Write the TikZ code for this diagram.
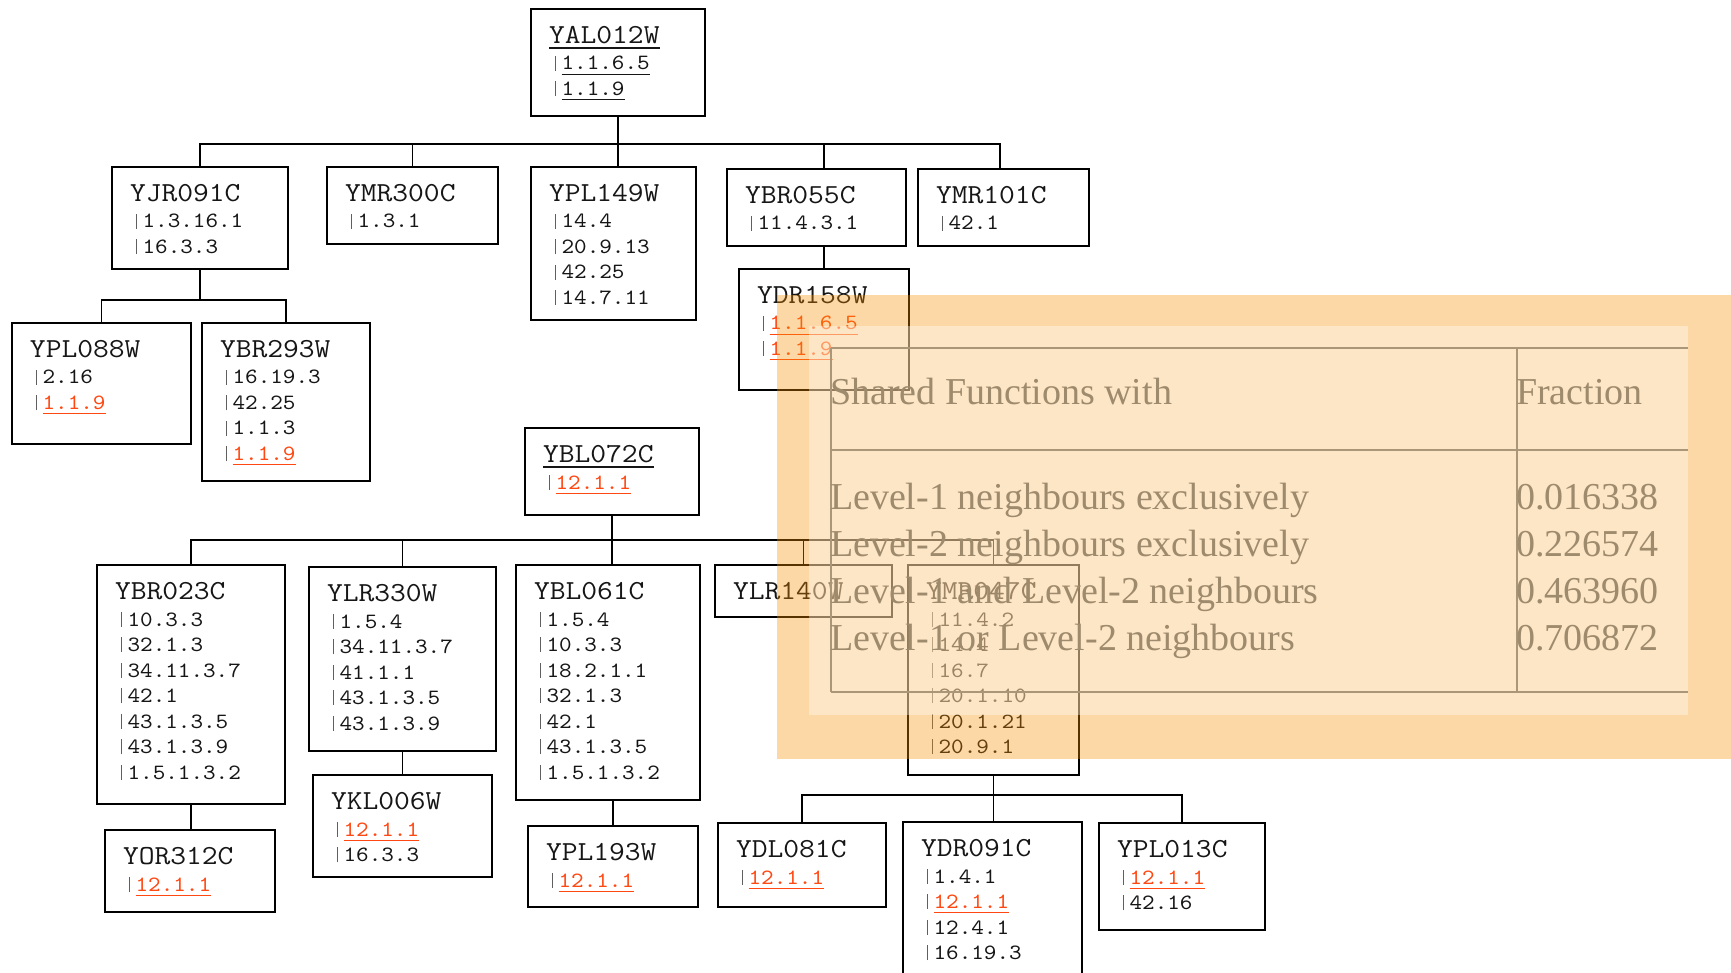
\documentclass[tikz,border=0pt]{standalone}
\usepackage{fontspec}
\usepackage{graphicx}
\newfontfamily\tabserif{Liberation Serif}

\definecolor{linkred}{RGB}{255,72,18}
\definecolor{ink}{RGB}{22,22,22}
\definecolor{barc}{RGB}{95,95,95}
\definecolor{veil}{RGB}{249,144,0}
\definecolor{tabink}{RGB}{158,138,108}
\definecolor{tabrule}{RGB}{170,150,120}

% fonts of the gene boxes
\newcommand\titlefont{\fontsize{13.75pt}{16pt}\selectfont\ttfamily}
\newcommand\itemfont{\fontsize{10.9pt}{13pt}\selectfont\ttfamily}
% underlined text: #1 depth of the rule, #2 its thickness, #3 text
\newcommand\ulbox[3]{\setbox0=\hbox{#3}\rlap{\rule[-#1]{\wd0}{#2}}\box0}
% gene names
\newcommand\gname[1]{\scalebox{1.115}[1]{\titlefont #1}}
\newcommand\gnameu[1]{\scalebox{1.115}[1]{\titlefont\ulbox{2.6pt}{0.6pt}{#1}}}
% function entries: plain, red link, black link
\newcommand\fbar{\makebox[0.525em]{\textcolor{barc}{\rule[-0.03em]{0.55pt}{0.68em}}}}
\newcommand\fnblack[1]{\scalebox{1.1}[1]{\itemfont\fbar\color{ink}#1}}
\newcommand\fnred[1]{\scalebox{1.1}[1]{\itemfont\fbar\color{linkred}\ulbox{2.4pt}{0.5pt}{#1}}}
\newcommand\fnlink[1]{\scalebox{1.1}[1]{\itemfont\fbar\color{ink}\ulbox{2.4pt}{0.5pt}{#1}}}

\tikzset{
  gbox/.style={draw=black, fill=white, line width=0.9pt, inner sep=0pt, outer sep=0pt},
  rootbox/.style={gbox, line width=1.3pt},
  lbl/.style={inner sep=0pt, outer sep=0pt, text=ink},
  conn/.style={draw=black, line width=0.85pt},
  tabtxt/.style={inner sep=0pt, outer sep=0pt, text=tabink,
    font={\tabserif\fontsize{19pt}{22pt}\selectfont}},
  tabline/.style={draw=tabrule, line width=1pt}
}

% #1 style, #2 name, #3 left, #4 top, #5 right, #6 bottom, #7 title, #8 entries
\newcommand\genebox[8][gbox]{%
  \node[#1, anchor=north west, minimum width={(#5-#3)*0.5pt},
        minimum height={(#6-#4)*0.5pt}] (#2) at (#3,#4) {};
  \node[lbl, anchor=base west] (#2-name) at (#3+18,#4+34.5) {#7};
  \def\entrylist{#8}%
  \ifx\entrylist\empty\else
    \foreach \entry [count=\k] in {#8} {
      \node[lbl, anchor=base west] (#2-\k) at (#3+18,#4+61+25.5*\k-25.5) {\entry};
    }%
  \fi
}

\begin{document}
\begin{tikzpicture}[x=0.5pt, y=-0.5pt]
\useasboundingbox (0,0) rectangle (1731,973);
\clip (0,0) rectangle (1731,973);
\fill[white] (0,0) rectangle (1731,973);

% ---- upper tree
\genebox[rootbox]{YAL012W}{531}{9}{705}{116}{\gnameu{YAL012W}}{\fnlink{1.1.6.5},\fnlink{1.1.9}}
\genebox{YJR091C}{112}{167}{288}{269}{\gname{YJR091C}}{\fnblack{1.3.16.1},\fnblack{16.3.3}}
\genebox{YMR300C}{327}{167}{498}{244}{\gname{YMR300C}}{\fnblack{1.3.1}}
\genebox{YPL149W}{531}{167}{696}{320}{\gname{YPL149W}}{\fnblack{14.4},\fnblack{20.9.13},\fnblack{42.25},\fnblack{14.7.11}}
\genebox{YBR055C}{727}{169}{906}{246}{\gname{YBR055C}}{\fnblack{11.4.3.1}}
\genebox{YMR101C}{918}{169}{1089}{246}{\gname{YMR101C}}{\fnblack{42.1}}
\genebox{YDR158W}{739}{269}{909}{390}{\gname{YDR158W}}{\fnred{1.1.6.5},\fnred{1.1.9}}
\genebox{YPL088W}{12}{323}{191}{444}{\gname{YPL088W}}{\fnblack{2.16},\fnred{1.1.9}}
\genebox{YBR293W}{202}{323}{370}{481}{\gname{YBR293W}}{\fnblack{16.19.3},\fnblack{42.25},\fnblack{1.1.3},\fnred{1.1.9}}

\coordinate (busA) at (0,144);
\draw[conn] (YAL012W.south) -- (YAL012W.south |- YPL149W.north);
\draw[conn] (YJR091C.north) -- (YJR091C.north |- busA) -- ([xshift=-1.75pt]YMR101C.north |- busA) -- ([xshift=-1.75pt]YMR101C.north);
\draw[conn] (YMR300C.north) -- (YMR300C.north |- busA);
\draw[conn] (YDR158W.north |- YBR055C.north) -- (YDR158W.north |- busA);
\draw[conn] (YDR158W.north |- YBR055C.south) -- (YDR158W.north);
\coordinate (busB) at (0,300);
\draw[conn] (YJR091C.south) -- (YJR091C.south |- busB);
\draw[conn] (YPL088W.north) -- (YPL088W.north |- busB) -- (YBR293W.north |- busB) -- (YBR293W.north);

% ---- lower tree
\genebox[rootbox]{YBL072C}{525}{428}{699}{515}{\gnameu{YBL072C}}{\fnred{12.1.1}}
\genebox{YBR023C}{97}{565}{285}{804}{\gname{YBR023C}}{\fnblack{10.3.3},\fnblack{32.1.3},\fnblack{34.11.3.7},\fnblack{42.1},\fnblack{43.1.3.5},\fnblack{43.1.3.9},\fnblack{1.5.1.3.2}}
\genebox{YLR330W}{309}{567}{496}{751}{\gname{YLR330W}}{\fnblack{1.5.4},\fnblack{34.11.3.7},\fnblack{41.1.1},\fnblack{43.1.3.5},\fnblack{43.1.3.9}}
\genebox{YBL061C}{516}{565}{700}{800}{\gname{YBL061C}}{\fnblack{1.5.4},\fnblack{10.3.3},\fnblack{18.2.1.1},\fnblack{32.1.3},\fnblack{42.1},\fnblack{43.1.3.5},\fnblack{1.5.1.3.2}}
\genebox{YLR140W}{715}{565}{892}{617}{\gname{YLR140W}}{}
\genebox{YMR047C}{908}{565}{1079}{775}{\gname{YMR047C}}{\fnblack{11.4.2},\fnblack{14.4},\fnblack{16.7},\fnblack{20.1.10},\fnblack{20.1.21},\fnblack{20.9.1}}
\genebox{YOR312C}{105}{830}{275}{912}{\gname{YOR312C}}{\fnred{12.1.1}}
\genebox{YKL006W}{313}{775}{492}{877}{\gname{YKL006W}}{\fnred{12.1.1},\fnblack{16.3.3}}
\genebox{YPL193W}{528}{826}{698}{907}{\gname{YPL193W}}{\fnred{12.1.1}}
\genebox{YDL081C}{718}{823}{886}{907}{\gname{YDL081C}}{\fnred{12.1.1}}
\genebox{YDR091C}{903}{822}{1082}{1000}{\gname{YDR091C}}{\fnblack{1.4.1},\fnred{12.1.1},\fnblack{12.4.1},\fnblack{16.19.3}}
\genebox{YPL013C}{1099}{823}{1265}{930}{\gname{YPL013C}}{\fnred{12.1.1},\fnblack{42.16}}

\coordinate (busC) at (0,540);
\draw[conn] (YBL072C.south) -- (YBL072C.south |- YBL061C.north);
\draw[conn] (YBR023C.north) -- (YBR023C.north |- busC) -- (YMR047C.north |- busC) -- (YMR047C.north);
\draw[conn] (YLR330W.north) -- (YLR330W.north |- busC);
\draw[conn] (YLR140W.north) -- (YLR140W.north |- busC);
\draw[conn] (YBR023C.south) -- (YBR023C.south |- YOR312C.north);
\draw[conn] (YLR330W.south) -- (YLR330W.south |- YKL006W.north);
\draw[conn] (YPL193W.north |- YBL061C.south) -- (YPL193W.north);
\coordinate (busD) at (0,795);
\draw[conn] (YMR047C.south) -- (YMR047C.south |- YDR091C.north);
\draw[conn] (YDL081C.north) -- (YDL081C.north |- busD) -- (YPL013C.north |- busD) -- (YPL013C.north);

% ---- translucent panel with the summary table
\fill[veil, fill opacity=0.35] (777,295) rectangle (1731,759);
\fill[white, fill opacity=0.36] (809,326) rectangle (1688,715);
\draw[tabline] (831,348) -- (1688,348);
\draw[tabline] (831,450) -- (1688,450);
\draw[tabline] (831,692) -- (1688,692);
\draw[tabline] (831,348) -- (831,692);
\draw[tabline] (1517,348) -- (1517,692);
\node[tabtxt, anchor=base west] (hd-shared) at (830,405) {Shared Functions with};
\node[tabtxt, anchor=base west] (hd-frac) at (1516,405) {Fraction};
\node[tabtxt, anchor=base west] (row1) at (830,509.5) {Level-1 neighbours exclusively};
\node[tabtxt, anchor=base west] (row2) at (830,556.5) {Level-2 neighbours exclusively};
\node[tabtxt, anchor=base west] (row3) at (830,603.5) {Level-1 and Level-2 neighbours};
\node[tabtxt, anchor=base west] (row4) at (830,650.5) {Level-1 or Level-2 neighbours};
\node[tabtxt, anchor=base west] (val1) at (1516,509.5) {0.016338};
\node[tabtxt, anchor=base west] (val2) at (1516,556.5) {0.226574};
\node[tabtxt, anchor=base west] (val3) at (1516,603.5) {0.463960};
\node[tabtxt, anchor=base west] (val4) at (1516,650.5) {0.706872};
\end{tikzpicture}
\end{document}
